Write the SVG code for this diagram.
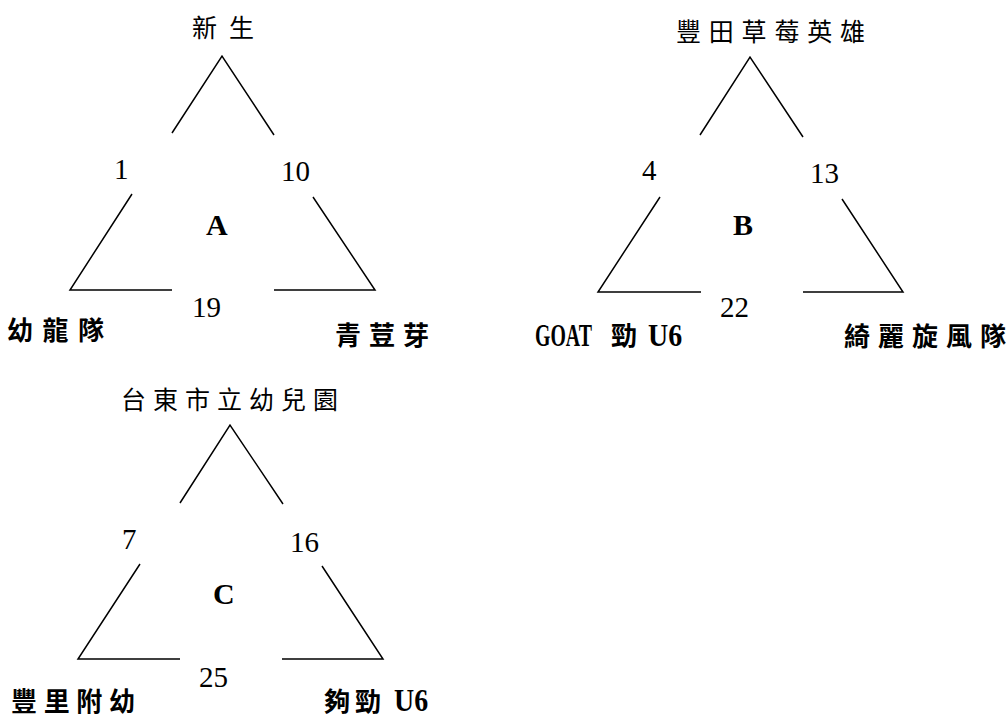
<svg xmlns="http://www.w3.org/2000/svg" width="1006" height="718" viewBox="0 0 1006 718">
<style>
.ln{stroke:#000;stroke-width:1.5;fill:none;stroke-linecap:butt}
.top{font-family:"Noto Sans CJK TC","Noto Sans CJK SC",sans-serif;font-size:25px;font-weight:400;fill:#000}
.bot{font-family:"Noto Sans CJK TC","Noto Sans CJK SC",sans-serif;font-size:26px;font-weight:700;fill:#000}
.lat{font-family:"Liberation Serif",serif;font-size:31px;font-weight:700;fill:#000}
.num{font-family:"Liberation Serif",serif;font-size:29px;fill:#000}
.pool{font-family:"Liberation Serif",serif;font-size:30px;font-weight:700;fill:#000}
</style>
<rect width="1006" height="718" fill="#fff"/>
<g id="connectors">
  <polyline class="ln" points="172,133 222,56 274,135"/>
  <polyline class="ln" points="132,194 70,290 172,290"/>
  <polyline class="ln" points="313,197 375,290 274,290"/>
  <polyline class="ln" points="700,135 750,57 803,137"/>
  <polyline class="ln" points="660,197 598,292 701,292"/>
  <polyline class="ln" points="842,199 903,292 803,292"/>
  <polyline class="ln" points="180,503 230,425 283,504"/>
  <polyline class="ln" points="140,564 78,659 180,659"/>
  <polyline class="ln" points="322,566 383,659 282,659"/>
</g>
<g id="pool-A">
  <text class="pool" x="206" y="235">A</text>
  <text class="num" x="114" y="179">1</text>
  <text class="num" x="281" y="181">10</text>
  <text class="num" x="192" y="317">19</text>
</g>
<g id="pool-B">
  <text class="pool" x="733" y="235">B</text>
  <text class="num" x="642" y="180">4</text>
  <text class="num" x="810" y="183">13</text>
  <text class="num" x="720" y="317">22</text>
</g>
<g id="pool-C">
  <text class="pool" x="213" y="604">C</text>
  <text class="num" x="122" y="549">7</text>
  <text class="num" x="290" y="552">16</text>
  <text class="num" x="199" y="687">25</text>
</g>
<g id="team-xinsheng"><text class="top" x="192" y="37" textLength="62">新生</text></g>
<g id="team-youlong"><text class="bot" x="7" y="340" textLength="97">幼龍隊</text></g>
<g id="team-qingdouya"><text class="bot" x="335" y="345" textLength="94">青荳芽</text></g>
<g id="team-fengtian"><text class="top" x="676" y="41" textLength="189">豐田草莓英雄</text></g>
<g id="team-goat">
  <text class="lat" transform="translate(535,346) scale(0.64,1)">GOAT</text>
  <text class="bot" x="611" y="345">勁</text>
  <text class="lat" transform="translate(648,346) scale(0.9,1)">U6</text>
</g>
<g id="team-qili"><text class="bot" x="844" y="346" textLength="162">綺麗旋風隊</text></g>
<g id="team-taitung"><text class="top" x="121" y="409" textLength="217">台東市立幼兒園</text></g>
<g id="team-fengli"><text class="bot" x="11" y="711" textLength="124">豐里附幼</text></g>
<g id="team-goujin">
  <text class="bot" x="324" y="711" textLength="57">夠勁</text>
  <text class="lat" transform="translate(394,711) scale(0.9,1)">U6</text>
</g>
</svg>
